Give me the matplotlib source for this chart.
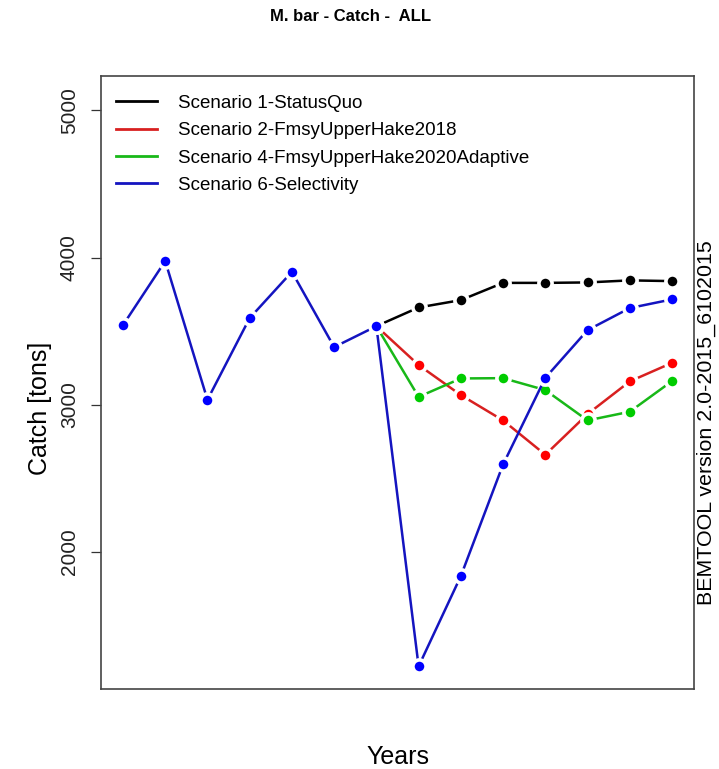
import matplotlib
matplotlib.use('Agg')
import matplotlib.pyplot as plt

plt.rcParams['font.family'] = ['Liberation Sans', 'DejaVu Sans']

# Catch (tons) per year index: 7 historical years, 7 projected years
years = list(range(1, 15))
hist_years = years[:7]
proj_years = years[6:]

historical = [3541, 3976, 3034, 3589, 3903, 3392, 3534]

labels = ['Scenario 1-StatusQuo',
          'Scenario 2-FmsyUpperHake2018',
          'Scenario 4-FmsyUpperHake2020Adaptive',
          'Scenario 6-Selectivity']
colors = ['black', '#d82020', '#18b818', '#1414c0']
marker_colors = ['black', '#ff0000', '#00cc00', '#0000ff']

# projections start at the last historical year
sc1 = [3534, 3661, 3711, 3828, 3828, 3831, 3845, 3840]
sc2 = [3534, 3270, 3066, 2894, 2661, 2937, 3159, 3285]
sc4 = [3534, 3054, 3179, 3181, 3100, 2894, 2953, 3161]
sc6 = [3534, 1224, 1837, 2595, 3183, 3507, 3657, 3716]
scenarios = [sc1, sc2, sc4, sc6]

fig = plt.figure(figsize=(7.19, 7.69), dpi=100)
ax = fig.add_axes([0.1405, 0.104, 0.8247, 0.7972])

style = dict(marker='o', markersize=9.5, markeredgewidth=2.6,
             markeredgecolor='white', linewidth=1.8)

for vals, lab, c, mc in zip(scenarios, labels, colors, marker_colors):
    ax.plot(proj_years, vals, color=c, markerfacecolor=mc, label=lab, **style)

ax.plot(hist_years, historical, color=colors[3],
        markerfacecolor=marker_colors[3], **style)

ax.set_xlim(0.48, 14.52)
ax.set_ylim(1070, 5233)
ax.set_xticks([])
ax.set_yticks([2000, 3000, 4000, 5000])
ax.set_yticklabels(['2000', '3000', '4000', '5000'], rotation=90, va='center')
ax.tick_params(axis='y', direction='out', length=7, width=0.9,
               labelsize=15, pad=9, colors='#333333', labelcolor='#222222')
for s in ax.spines.values():
    s.set_color('#444444')
    s.set_linewidth(1.2)

ax.set_ylabel('Catch [tons]', fontsize=18, va='center')
ax.yaxis.set_label_coords(-0.103, 0.458)
ax.set_xlabel('Years', fontsize=18, va='center')
ax.xaxis.set_label_coords(0.5, -0.111)

leg = ax.legend(loc='upper left', bbox_to_anchor=(0.012, 0.982), frameon=False,
                fontsize=13.5, handlelength=2.2, handletextpad=1.1,
                labelspacing=0.55, borderaxespad=0)
for h in leg.get_lines():
    h.set_marker('')
    h.set_linewidth(2)

fig.text(0.488, 0.978, 'M. bar - Catch -  ALL', ha='center', va='center',
         fontsize=12, fontweight='bold')
fig.text(0.982, 0.451, 'BEMTOOL version 2.0-2015_6102015', rotation=90,
         ha='center', va='center', fontsize=15.4)

fig.savefig('out.png', dpi=100)
